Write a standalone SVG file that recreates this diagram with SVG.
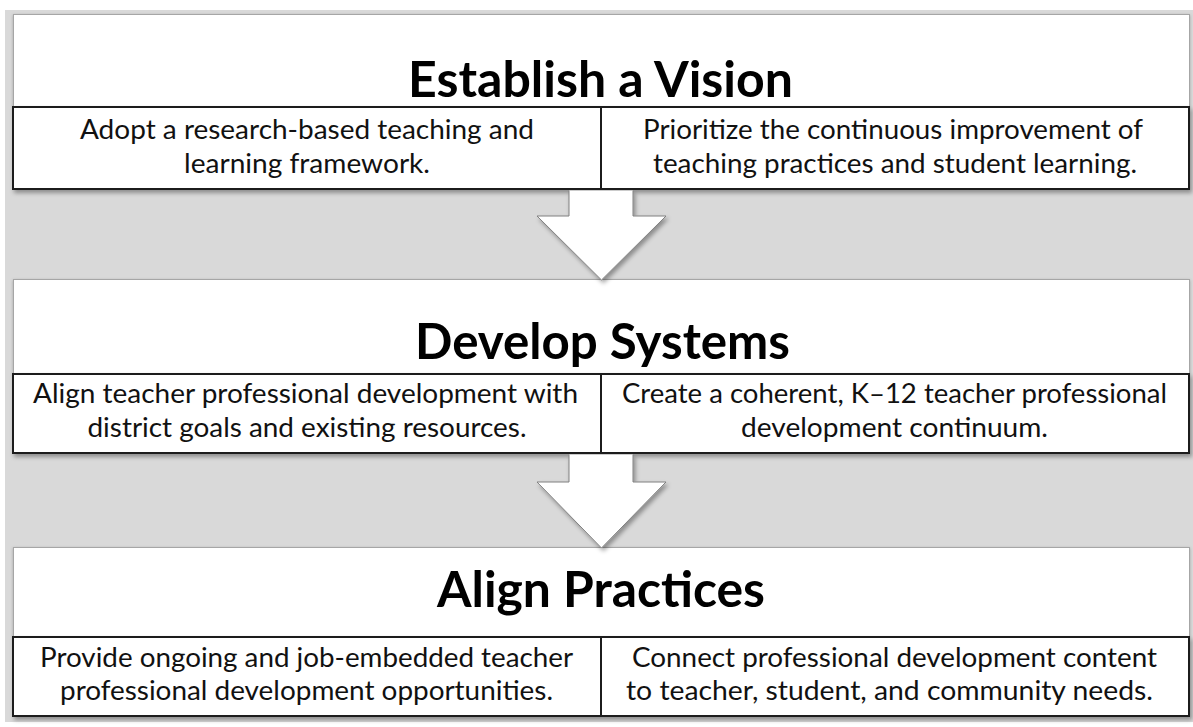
<svg xmlns="http://www.w3.org/2000/svg" width="1193" height="727" viewBox="0 0 1193 727">
  <defs>
    <filter id="shadow" x="-5%" y="-20%" width="110%" height="150%">
      <feDropShadow dx="2" dy="3" stdDeviation="2" flood-color="#000" flood-opacity="0.35"/>
    </filter>
    <filter id="softShadow" x="-5%" y="-20%" width="110%" height="150%">
      <feDropShadow dx="0" dy="1" stdDeviation="1.5" flood-color="#000" flood-opacity="0.25"/>
    </filter>
    <style>
      .band { fill: #d9d9d9; }
      .panel { fill: #ffffff; stroke: #a6a6a6; stroke-width: 1; filter: url(#softShadow); }
      .cell { fill: #ffffff; stroke: #1e1e1e; stroke-width: 2; }
      .cellbox { filter: url(#shadow); }
      .arrow { fill: #ffffff; stroke: #808080; stroke-width: 1; filter: url(#shadow); }
      .title { font-family: Lato, "Open Sans", "Liberation Sans", sans-serif; font-weight: bold; font-size: 50px; fill: #000; text-anchor: middle; }
      .body { font-family: Lato, "Open Sans", "Liberation Sans", sans-serif; font-size: 26px; fill: #111; text-anchor: middle; }
    </style>
  </defs>

  <rect width="1193" height="727" fill="#ffffff"/>
  <!-- grey backdrop -->
  <rect class="band" x="5" y="10" width="1188" height="712"/>

  <!-- Stage 1 -->
  <g id="establish-vision">
    <rect class="panel" x="13.5" y="14.5" width="1176" height="93"/>
    <text class="title" x="600.5" y="97" textLength="385" lengthAdjust="spacingAndGlyphs">Establish a Vision</text>
    <g class="cellbox">
      <rect class="cell" x="13" y="107" width="588" height="82"/>
      <rect class="cell" x="601" y="107" width="588" height="82"/>
    </g>
    <text class="body" x="307" y="139" textLength="454" lengthAdjust="spacingAndGlyphs">Adopt a research-based teaching and</text>
    <text class="body" x="307" y="173" textLength="246" lengthAdjust="spacingAndGlyphs">learning framework.</text>
    <text class="body" x="893" y="139" textLength="500" lengthAdjust="spacingAndGlyphs">Prioritize the continuous improvement of</text>
    <text class="body" x="895" y="173" textLength="484" lengthAdjust="spacingAndGlyphs">teaching practices and student learning.</text>
  </g>

  <!-- Stage 2 -->
  <g id="develop-systems">
    <rect class="panel" x="13.5" y="279.5" width="1176" height="95"/>
    <text class="title" x="602.5" y="359" textLength="375" lengthAdjust="spacingAndGlyphs">Develop Systems</text>
    <g class="cellbox">
      <rect class="cell" x="13" y="374" width="588" height="79"/>
      <rect class="cell" x="601" y="374" width="588" height="79"/>
    </g>
    <text class="body" x="305.5" y="403" textLength="545" lengthAdjust="spacingAndGlyphs">Align teacher professional development with</text>
    <text class="body" x="307" y="437" textLength="439" lengthAdjust="spacingAndGlyphs">district goals and existing resources.</text>
    <text class="body" x="894.5" y="403" textLength="545" lengthAdjust="spacingAndGlyphs">Create a coherent, K–12 teacher professional</text>
    <text class="body" x="894.5" y="437" textLength="307" lengthAdjust="spacingAndGlyphs">development continuum.</text>
  </g>

  <!-- Stage 3 -->
  <g id="align-practices">
    <rect class="panel" x="13.5" y="547.5" width="1176" height="90"/>
    <text class="title" x="601" y="607" textLength="328" lengthAdjust="spacingAndGlyphs">Align Practices</text>
    <g class="cellbox">
      <rect class="cell" x="13" y="637" width="588" height="79"/>
      <rect class="cell" x="601" y="637" width="588" height="79"/>
    </g>
    <text class="body" x="306.5" y="667" textLength="533" lengthAdjust="spacingAndGlyphs">Provide ongoing and job-embedded teacher</text>
    <text class="body" x="306.5" y="700" textLength="493" lengthAdjust="spacingAndGlyphs">professional development opportunities.</text>
    <text class="body" x="894.5" y="667" textLength="525" lengthAdjust="spacingAndGlyphs">Connect professional development content</text>
    <text class="body" x="889.5" y="700" textLength="527" lengthAdjust="spacingAndGlyphs">to teacher, student, and community needs.</text>
  </g>

  <!-- Block arrows between stages -->
  <g id="connectors">
    <path class="arrow" d="M569,190.5 V216 H537 L601.5,280 L666,216 H633 V190.5"/>
    <path class="arrow" d="M569,454.5 V482 H537 L601.5,548 L666,482 H633 V454.5"/>
  </g>
</svg>
